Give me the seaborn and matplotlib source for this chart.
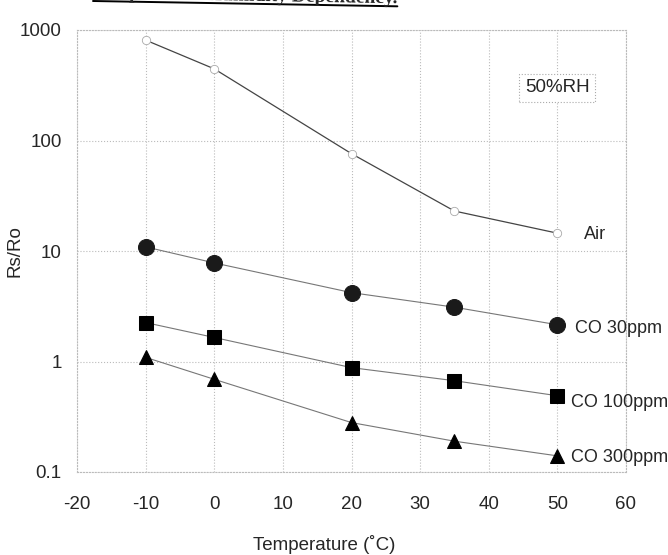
import matplotlib
matplotlib.use("Agg")
import math
import matplotlib.pyplot as plt
import seaborn as sns
import pandas as pd
from matplotlib.lines import Line2D

# temperature (C) of the measured points
temps = [-10, 0, 20, 35, 50]

# Rs/Ro
air = [810, 445, 76, 23, 14.5]
co_30 = [10.9, 7.8, 4.2, 3.1, 2.15]
co_100 = [2.25, 1.65, 0.88, 0.67, 0.49]
co_300 = [1.09, 0.69, 0.28, 0.19, 0.14]

series_names = ["Air", "CO 30ppm", "CO 100ppm", "CO 300ppm"]
x_ticks = [-20, -10, 0, 10, 20, 30, 40, 50, 60]
y_ticks = [0.1, 1, 10, 100, 1000]
y_tick_labels = ["0.1", "1", "10", "100", "1000"]

sns.set_theme(style="white")
plt.rcParams["font.family"] = ["Liberation Sans", "DejaVu Sans"]

W, H = 668, 555
fig = plt.figure(figsize=(W / 100, H / 100), dpi=100)
ax = fig.add_axes([77 / W, 1 - 472 / H, 549 / W, 442 / H])

styles = {
    "Air": dict(marker="o", markersize=6, markerfacecolor="white",
                markeredgecolor="#aaaaaa", markeredgewidth=0.6,
                color="#444444", linewidth=0.9),
    "CO 30ppm": dict(marker="o", markersize=11.5, markerfacecolor="#1a1a1a",
                     markeredgecolor="#1a1a1a", color="#777777", linewidth=0.8),
    "CO 100ppm": dict(marker="s", markersize=10.5, markerfacecolor="black",
                      markeredgecolor="black", color="#777777", linewidth=0.8),
    "CO 300ppm": dict(marker="^", markersize=10.5, markerfacecolor="black",
                      markeredgecolor="black", color="#777777", linewidth=0.8),
}

values = {"Air": air, "CO 30ppm": co_30, "CO 100ppm": co_100, "CO 300ppm": co_300}
label_offsets = {"Air": (19, -1), "CO 30ppm": (13, -3),
                 "CO 100ppm": (10, -5), "CO 300ppm": (10, -1)}

for name in series_names:
    df = pd.DataFrame({"temp": temps, "ratio": values[name]})
    sns.lineplot(data=df, x="temp", y="ratio", ax=ax, **styles[name])
    ax.annotate(name, (temps[-1], values[name][-1]), xytext=label_offsets[name],
                textcoords="offset points", fontsize=13, va="center", ha="left",
                annotation_clip=False)

ax.set_yscale("log")
ax.set_xlim(-20, 60)
ax.set_ylim(0.1, 1000)
ax.set_xticks(x_ticks)
ax.set_xticklabels([str(t) for t in x_ticks])
ax.set_yticks(y_ticks)
ax.set_yticklabels(y_tick_labels)
ax.minorticks_off()
ax.tick_params(axis="x", length=0, pad=17, labelsize=13.5)
ax.tick_params(axis="y", length=0, pad=11, labelsize=13.5)
ax.grid(True, color="#bbbbbb", linestyle=":", linewidth=0.8)
for sp in ax.spines.values():
    sp.set_color("#bbbbbb")
    sp.set_linestyle(":")
    sp.set_linewidth(0.8)

ax.set_xlabel("Temperature (\u02daC)", fontsize=13.5)
ax.set_ylabel("Rs/Ro", fontsize=13.5)
ax.xaxis.set_label_coords(0.45, -0.142)
ax.yaxis.set_label_coords(-0.097, 0.5)

ax.text(50, 300, "50%RH", fontsize=13.5, ha="center", va="center",
        bbox=dict(boxstyle="square,pad=0.3", facecolor="white",
                  edgecolor="#aaaaaa", linestyle=":", linewidth=0.8))

# heading of the scanned page, tilted and cut off at the top edge
tilt = 1.0
x0_px, base_px = 93, -1.5
title = fig.text(x0_px / W, 1 - base_px / H, "Temperature/Humidity Dependency.",
                 fontfamily="Liberation Serif", fontweight="bold", fontsize=14,
                 va="baseline", ha="left", rotation_mode="anchor")
fig.canvas.draw()
width_px = title.get_window_extent().width
title.set_rotation(-tilt)
drop = width_px * math.tan(math.radians(tilt))
y_a = base_px + 2.5
fig.add_artist(Line2D([x0_px / W, (x0_px + width_px) / W],
                      [1 - y_a / H, 1 - (y_a + drop) / H],
                      transform=fig.transFigure, color="black", linewidth=1.4))

fig.savefig("out.png", dpi=100)
